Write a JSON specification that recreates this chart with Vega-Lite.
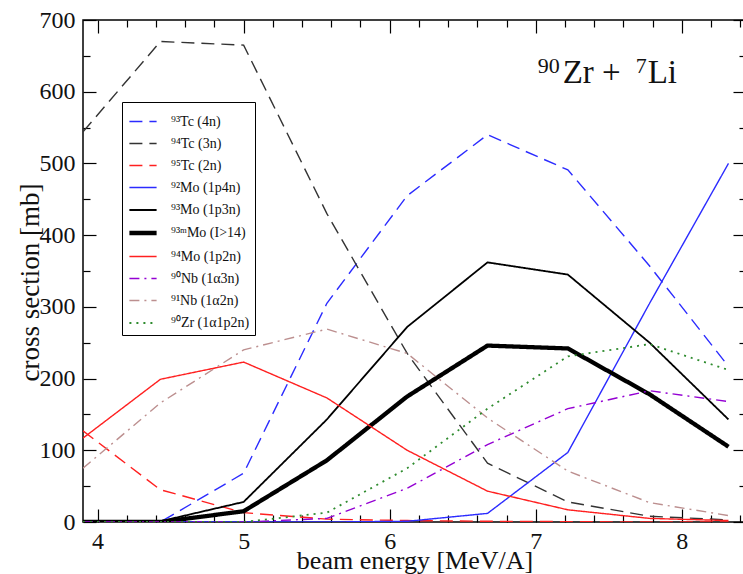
{
  "$schema": "https://vega.github.io/schema/vega-lite/v6.json",
  "width": 663,
  "height": 502,
  "autosize": {"type": "none"},
  "padding": {"left": 83, "top": 20, "right": 0, "bottom": 52},
  "config": {
    "view": {"stroke": "black", "strokeWidth": 1.5},
    "font": "Liberation Serif",
    "axis": {"grid": false, "domain": false, "tickColor": "black", "tickWidth": 1.2, "labelFont": "Liberation Serif", "titleFont": "Liberation Serif", "labelColor": "#111", "titleColor": "#111", "titleFontWeight": "normal"}
  },
  "datasets": {
    "curves": [
      {"iso": "93Tc (4n)", "e": 3.9, "xs": 0}, {"iso": "93Tc (4n)", "e": 4.43, "xs": 0}, {"iso": "93Tc (4n)", "e": 5.0, "xs": 68}, {"iso": "93Tc (4n)", "e": 5.57, "xs": 305}, {"iso": "93Tc (4n)", "e": 6.12, "xs": 455}, {"iso": "93Tc (4n)", "e": 6.67, "xs": 540}, {"iso": "93Tc (4n)", "e": 7.22, "xs": 491}, {"iso": "93Tc (4n)", "e": 7.78, "xs": 357}, {"iso": "93Tc (4n)", "e": 8.32, "xs": 217},
      {"iso": "94Tc (3n)", "e": 3.9, "xs": 544}, {"iso": "94Tc (3n)", "e": 4.43, "xs": 670}, {"iso": "94Tc (3n)", "e": 5.0, "xs": 665}, {"iso": "94Tc (3n)", "e": 5.57, "xs": 430}, {"iso": "94Tc (3n)", "e": 6.12, "xs": 235}, {"iso": "94Tc (3n)", "e": 6.67, "xs": 82}, {"iso": "94Tc (3n)", "e": 7.22, "xs": 28}, {"iso": "94Tc (3n)", "e": 7.78, "xs": 8}, {"iso": "94Tc (3n)", "e": 8.32, "xs": 3},
      {"iso": "95Tc (2n)", "e": 3.9, "xs": 127}, {"iso": "95Tc (2n)", "e": 4.43, "xs": 45}, {"iso": "95Tc (2n)", "e": 5.0, "xs": 13}, {"iso": "95Tc (2n)", "e": 5.57, "xs": 4}, {"iso": "95Tc (2n)", "e": 6.12, "xs": 2}, {"iso": "95Tc (2n)", "e": 6.67, "xs": 1}, {"iso": "95Tc (2n)", "e": 7.22, "xs": 0.5}, {"iso": "95Tc (2n)", "e": 7.78, "xs": 0}, {"iso": "95Tc (2n)", "e": 8.32, "xs": 0},
      {"iso": "92Mo (1p4n)", "e": 3.9, "xs": 0}, {"iso": "92Mo (1p4n)", "e": 4.43, "xs": 0}, {"iso": "92Mo (1p4n)", "e": 5.0, "xs": 0}, {"iso": "92Mo (1p4n)", "e": 5.57, "xs": 0}, {"iso": "92Mo (1p4n)", "e": 6.12, "xs": 1}, {"iso": "92Mo (1p4n)", "e": 6.67, "xs": 12}, {"iso": "92Mo (1p4n)", "e": 7.22, "xs": 97}, {"iso": "92Mo (1p4n)", "e": 7.78, "xs": 305}, {"iso": "92Mo (1p4n)", "e": 8.32, "xs": 500},
      {"iso": "93Mo (1p3n)", "e": 3.9, "xs": 0}, {"iso": "93Mo (1p3n)", "e": 4.43, "xs": 1}, {"iso": "93Mo (1p3n)", "e": 5.0, "xs": 28}, {"iso": "93Mo (1p3n)", "e": 5.57, "xs": 143}, {"iso": "93Mo (1p3n)", "e": 6.12, "xs": 272}, {"iso": "93Mo (1p3n)", "e": 6.67, "xs": 362}, {"iso": "93Mo (1p3n)", "e": 7.22, "xs": 345}, {"iso": "93Mo (1p3n)", "e": 7.78, "xs": 250}, {"iso": "93Mo (1p3n)", "e": 8.32, "xs": 143},
      {"iso": "93mMo (I>14)", "e": 3.9, "xs": 0}, {"iso": "93mMo (I>14)", "e": 4.43, "xs": 0}, {"iso": "93mMo (I>14)", "e": 5.0, "xs": 15}, {"iso": "93mMo (I>14)", "e": 5.57, "xs": 86}, {"iso": "93mMo (I>14)", "e": 6.12, "xs": 175}, {"iso": "93mMo (I>14)", "e": 6.67, "xs": 246}, {"iso": "93mMo (I>14)", "e": 7.22, "xs": 242}, {"iso": "93mMo (I>14)", "e": 7.78, "xs": 178}, {"iso": "93mMo (I>14)", "e": 8.32, "xs": 105},
      {"iso": "94Mo (1p2n)", "e": 3.9, "xs": 117}, {"iso": "94Mo (1p2n)", "e": 4.43, "xs": 199}, {"iso": "94Mo (1p2n)", "e": 5.0, "xs": 223}, {"iso": "94Mo (1p2n)", "e": 5.57, "xs": 173}, {"iso": "94Mo (1p2n)", "e": 6.12, "xs": 100}, {"iso": "94Mo (1p2n)", "e": 6.67, "xs": 43}, {"iso": "94Mo (1p2n)", "e": 7.22, "xs": 17}, {"iso": "94Mo (1p2n)", "e": 7.78, "xs": 5}, {"iso": "94Mo (1p2n)", "e": 8.32, "xs": 2},
      {"iso": "90Nb (1α3n)", "e": 3.9, "xs": 0}, {"iso": "90Nb (1α3n)", "e": 4.43, "xs": 0}, {"iso": "90Nb (1α3n)", "e": 5.0, "xs": 0}, {"iso": "90Nb (1α3n)", "e": 5.57, "xs": 5}, {"iso": "90Nb (1α3n)", "e": 6.12, "xs": 47}, {"iso": "90Nb (1α3n)", "e": 6.67, "xs": 108}, {"iso": "90Nb (1α3n)", "e": 7.22, "xs": 158}, {"iso": "90Nb (1α3n)", "e": 7.78, "xs": 183}, {"iso": "90Nb (1α3n)", "e": 8.32, "xs": 168},
      {"iso": "91Nb (1α2n)", "e": 3.9, "xs": 75}, {"iso": "91Nb (1α2n)", "e": 4.43, "xs": 166}, {"iso": "91Nb (1α2n)", "e": 5.0, "xs": 240}, {"iso": "91Nb (1α2n)", "e": 5.57, "xs": 269}, {"iso": "91Nb (1α2n)", "e": 6.12, "xs": 235}, {"iso": "91Nb (1α2n)", "e": 6.67, "xs": 145}, {"iso": "91Nb (1α2n)", "e": 7.22, "xs": 71}, {"iso": "91Nb (1α2n)", "e": 7.78, "xs": 27}, {"iso": "91Nb (1α2n)", "e": 8.32, "xs": 9},
      {"iso": "90Zr (1α1p2n)", "e": 3.9, "xs": 0}, {"iso": "90Zr (1α1p2n)", "e": 4.43, "xs": 0}, {"iso": "90Zr (1α1p2n)", "e": 5.0, "xs": 0}, {"iso": "90Zr (1α1p2n)", "e": 5.57, "xs": 13}, {"iso": "90Zr (1α1p2n)", "e": 6.12, "xs": 75}, {"iso": "90Zr (1α1p2n)", "e": 6.67, "xs": 158}, {"iso": "90Zr (1α1p2n)", "e": 7.22, "xs": 231}, {"iso": "90Zr (1α1p2n)", "e": 7.78, "xs": 248}, {"iso": "90Zr (1α1p2n)", "e": 8.32, "xs": 212}
    ],
    "note": [{"e": 6.986, "xs": 612}]
  },
  "layer": [
    {
      "data": {"name": "curves"},
      "mark": {"type": "line", "clip": true},
      "encoding": {
        "x": {"field": "e", "type": "quantitative", "scale": {"domain": [3.9, 8.44], "nice": false, "zero": false},
              "axis": {"orient": "bottom", "values": [4, 5, 6, 7, 8], "tickSize": -13, "labelFontSize": 24, "labelPadding": 20, "title": "beam energy [MeV/A]", "titleFontSize": 26, "titlePadding": -6}},
        "y": {"field": "xs", "type": "quantitative", "scale": {"domain": [0, 700], "nice": false},
              "axis": {"orient": "left", "values": [0, 100, 200, 300, 400, 500, 600, 700], "tickSize": -13, "labelFontSize": 24, "labelPadding": 21, "title": "cross section [mb]", "titleFontSize": 27, "titlePadding": -5, "titleY": 262}},
        "color": {"field": "iso", "type": "nominal",
          "scale": {"domain": ["93Tc (4n)", "94Tc (3n)", "95Tc (2n)", "92Mo (1p4n)", "93Mo (1p3n)", "93mMo (I>14)", "94Mo (1p2n)", "90Nb (1α3n)", "91Nb (1α2n)", "90Zr (1α1p2n)"],
                    "range": ["#2b2bff", "#333333", "#ff2020", "#2b2bff", "#000000", "#000000", "#ff2020", "#9400d3", "#bc8f8f", "#2e8b2e"]},
          "legend": {"orient": "none", "legendX": 39, "legendY": 82, "title": null, "fillColor": "white", "strokeColor": "black", "padding": 5, "symbolType": "stroke", "symbolSize": 740, "labelFont": "Liberation Serif", "labelFontSize": 14, "labelColor": "#111", "labelOffset": 12, "rowPadding": 0,
                     "labelExpr": "replace(replace(replace(replace(replace(replace(replace(datum.label, '93m', '⁹³ᵐ'), '93', '⁹³'), '94', '⁹⁴'), '95', '⁹⁵'), '92', '⁹²'), '90', '⁹⁰'), '91', '⁹¹')"}},
        "strokeDash": {"field": "iso", "type": "nominal",
          "scale": {"domain": ["93Tc (4n)", "94Tc (3n)", "95Tc (2n)", "92Mo (1p4n)", "93Mo (1p3n)", "93mMo (I>14)", "94Mo (1p2n)", "90Nb (1α3n)", "91Nb (1α2n)", "90Zr (1α1p2n)"],
                    "range": [[13, 7], [13, 7], [13, 7], [1, 0], [1, 0], [1, 0], [1, 0], [10, 5, 2, 5], [10, 5, 2, 5], [2, 5]]}},
        "strokeWidth": {"field": "iso", "type": "nominal",
          "scale": {"type": "ordinal", "domain": ["93Tc (4n)", "94Tc (3n)", "95Tc (2n)", "92Mo (1p4n)", "93Mo (1p3n)", "93mMo (I>14)", "94Mo (1p2n)", "90Nb (1α3n)", "91Nb (1α2n)", "90Zr (1α1p2n)"],
                    "range": [1.4, 1.4, 1.4, 1.4, 1.8, 4.3, 1.4, 1.4, 1.4, 1.8]}},
        "order": {"field": "e", "type": "quantitative"}
      }
    },
    {
      "data": {"name": "note"},
      "mark": {"type": "text", "font": "Liberation Serif", "fontSize": 22, "color": "#111", "align": "left", "baseline": "alphabetic", "dx": 4, "dy": -10, "text": "90"},
      "encoding": {
        "x": {"field": "e", "type": "quantitative", "axis": {"orient": "bottom", "values": [4.2, 4.4, 4.6, 4.8, 5.2, 5.4, 5.6, 5.8, 6.2, 6.4, 6.6, 6.8, 7.2, 7.4, 7.6, 7.8, 8.2, 8.4], "tickSize": -7, "labels": false, "title": null}},
        "y": {"field": "xs", "type": "quantitative", "axis": {"orient": "left", "values": [50, 150, 250, 350, 450, 550, 650], "tickSize": -7, "labels": false, "title": null}}
      }
    },
    {
      "data": {"name": "note"},
      "mark": {"type": "text", "font": "Liberation Serif", "fontSize": 33, "color": "#111", "align": "left", "baseline": "alphabetic", "dx": 29, "text": "Zr + "},
      "encoding": {
        "x": {"field": "e", "type": "quantitative", "axis": {"orient": "top", "values": [4, 5, 6, 7, 8], "tickSize": -13, "labels": false, "title": null}},
        "y": {"field": "xs", "type": "quantitative", "axis": {"orient": "right", "values": [0, 100, 200, 300, 400, 500, 600, 700], "tickSize": -13, "labels": false, "title": null}}
      }
    },
    {
      "data": {"name": "note"},
      "mark": {"type": "text", "font": "Liberation Serif", "fontSize": 22, "color": "#111", "align": "left", "baseline": "alphabetic", "dx": 102, "dy": -10, "text": "7"},
      "encoding": {
        "x": {"field": "e", "type": "quantitative", "axis": {"orient": "top", "values": [4.2, 4.4, 4.6, 4.8, 5.2, 5.4, 5.6, 5.8, 6.2, 6.4, 6.6, 6.8, 7.2, 7.4, 7.6, 7.8, 8.2, 8.4], "tickSize": -7, "labels": false, "title": null}},
        "y": {"field": "xs", "type": "quantitative", "axis": {"orient": "right", "values": [50, 150, 250, 350, 450, 550, 650], "tickSize": -7, "labels": false, "title": null}}
      }
    },
    {
      "data": {"name": "note"},
      "mark": {"type": "text", "font": "Liberation Serif", "fontSize": 33, "color": "#111", "align": "left", "baseline": "alphabetic", "dx": 114, "text": "Li"},
      "encoding": {
        "x": {"field": "e", "type": "quantitative", "axis": null},
        "y": {"field": "xs", "type": "quantitative", "axis": null}
      }
    }
  ],
  "resolve": {"axis": {"x": "independent", "y": "independent"}}
}
